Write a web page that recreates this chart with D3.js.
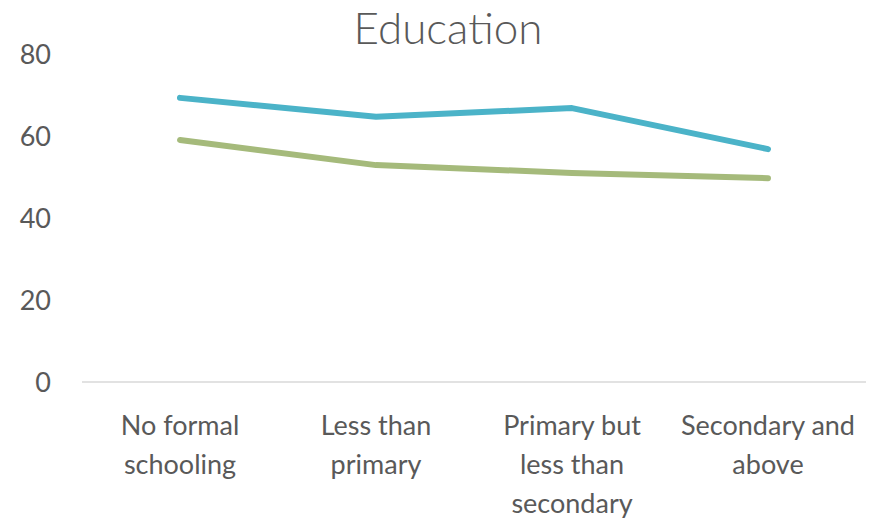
<!DOCTYPE html>
<html>
<head>
<meta charset="utf-8">
<script src="https://cdn.jsdelivr.net/npm/d3@7"></script>
<style>
  html, body { margin: 0; padding: 0; background: #fff; }
  svg { display: block; font-family: Lato, "Open Sans", sans-serif; }
</style>
</head>
<body>
<svg id="chart" width="869" height="519"></svg>
<script>
// Education categories (with their label line breaks) and the two series
const categories = ["No formal schooling", "Less than primary", "Primary but less than secondary", "Secondary and above"];
const categoryLines = [["No formal", "schooling"], ["Less than", "primary"], ["Primary but", "less than", "secondary"], ["Secondary and", "above"]];
const seriesA = [69.3, 64.7, 66.8, 56.8];
const seriesB = [59.0, 52.9, 51.0, 49.7];
const yTicks = [0, 20, 40, 60, 80];
const title = "Education";

const svg = d3.select("#chart");
const margin = { left: 82, right: 3, top: 54, bottom: 137 };
const W = 869, H = 519;

const x = d3.scaleBand().domain(categories).range([margin.left, W - margin.right]);
const y = d3.scaleLinear().domain([0, 80]).range([H - margin.bottom, margin.top]);

// title
svg.append("text")
  .attr("x", 448).attr("y", 44)
  .attr("text-anchor", "middle")
  .attr("fill", "#595959")
  .style("font-size", "44px")
  .style("font-weight", 300)
  .text(title);

// y axis labels
const yAxis = d3.axisLeft(y).tickValues(yTicks).tickSize(0).tickPadding(0);
const gy = svg.append("g").attr("transform", "translate(51,0)").call(yAxis)
  .attr("font-family", null).attr("font-size", null);
gy.select(".domain").remove();
gy.selectAll("text").attr("fill", "#595959").style("font-size", "27px").attr("dy", "0.36em");

// baseline
svg.append("line")
  .attr("x1", margin.left).attr("x2", W - margin.right)
  .attr("y1", y(0)).attr("y2", y(0))
  .attr("stroke", "#d9d9d9").attr("stroke-width", 1.5);

// x axis category labels
const xAxis = d3.axisBottom(x).tickSize(0).tickPadding(0);
const gx = svg.append("g").attr("transform", `translate(0,${y(0)})`).call(xAxis)
  .attr("font-family", null).attr("font-size", null);
gx.select(".domain").remove();
gx.selectAll("text")
  .attr("fill", "#595959").style("font-size", "27px")
  .attr("y", 0).attr("dy", null)
  .each(function(d) {
    const t = d3.select(this);
    t.text(null);
    categoryLines[categories.indexOf(d)].forEach((l, i) => {
      t.append("tspan").attr("x", 0).attr("y", 53 + i * 39).text(l);
    });
  });

// series lines
const line = d3.line()
  .x((d, i) => x(categories[i]) + x.bandwidth() / 2)
  .y(d => y(d));

[[seriesA, "#4bb3c8"], [seriesB, "#a5ba7b"]].forEach(([vals, col]) => {
  svg.append("path")
    .datum(vals)
    .attr("d", line)
    .attr("fill", "none")
    .attr("stroke", col)
    .attr("stroke-width", 6)
    .attr("stroke-linecap", "round")
    .attr("stroke-linejoin", "round");
});
</script>
</body>
</html>
